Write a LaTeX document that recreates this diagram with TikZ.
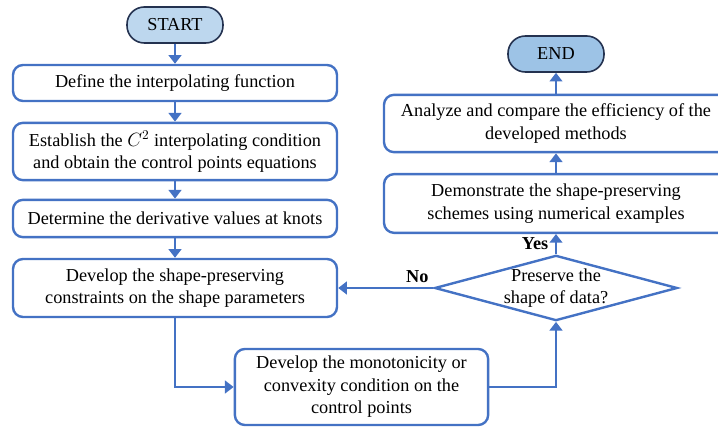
\documentclass[tikz,border=0pt]{standalone}
\usepackage{fontspec}
\setmainfont{Liberation Serif}
\usepackage{tikz}
\usetikzlibrary{shapes.geometric, arrows.meta, positioning, calc}
\definecolor{FlowBlue}{RGB}{68, 114, 196}
\definecolor{FlowNavy}{RGB}{36, 50, 80}
\definecolor{StartFill}{RGB}{189, 215, 238}
\definecolor{EndFill}{RGB}{157, 195, 230}

\tikzset{
  terminal/.style={draw=FlowNavy, line width=1.2pt, rounded corners=13pt,
                   minimum width=72pt, minimum height=27pt, inner sep=0pt,
                   font=\fontsize{13.7}{16.5}\selectfont},
  procbox/.style={draw=FlowBlue, line width=1.8pt, rounded corners=7.5pt,
                  fill=white, align=center, inner sep=0pt,
                  font=\fontsize{13.7}{16.8}\selectfont},
  decision/.style={diamond, draw=FlowBlue, line width=1.8pt, aspect=3.7,
                   minimum width=182pt, minimum height=49pt, inner sep=-6pt,
                   align=center, font=\fontsize{13.7}{17}\selectfont},
  flow/.style={draw=FlowBlue, line width=1.7pt,
               -{Triangle[width=9.5pt,length=6.5pt]}},
  answer/.style={font=\fontsize{13.7}{16}\selectfont\bfseries, inner sep=2pt}
}

\begin{document}
\begin{tikzpicture}[x=0.75pt, y=-0.75pt]
    \useasboundingbox (0,0) rectangle (718,427);

    % left column
    \node[terminal, fill=StartFill] (start) at (175,25) {START};
    \node[procbox, minimum width=243pt, minimum height=27pt] (define) at (175,83)
      {Define the interpolating function};
    \node[procbox, minimum width=243pt, minimum height=43pt] (cond) at (175,151.5)
      {Establish the $C^2$ interpolating condition\\and obtain the control points equations};
    \node[procbox, minimum width=243pt, minimum height=28pt] (deriv) at (175,218.5)
      {Determine the derivative values at knots};
    \node[procbox, minimum width=243pt, minimum height=43.5pt] (constr) at (175,288)
      {Develop the shape-preserving\\constraints on the shape parameters};
    \node[procbox, minimum width=190pt, minimum height=57pt] (mono) at (361.5,387)
      {Develop the monotonicity or\\convexity condition on the\\control points};

    % right column
    \node[decision] (check) at (556,288) {Preserve the\\shape of data?};
    \node[procbox, minimum width=258pt, minimum height=44pt] (demo) at (556,203.5)
      {Demonstrate the shape-preserving\\schemes using numerical examples};
    \node[procbox, minimum width=258pt, minimum height=43pt] (compare) at (556,123.5)
      {Analyze and compare the efficiency of the\\developed methods};
    \node[terminal, fill=EndFill] (end) at (556,54) {END};

    % connectors
    \draw[flow] (start) -- (define);
    \draw[flow] (define) -- (cond);
    \draw[flow] (cond) -- (deriv);
    \draw[flow] (deriv) -- (constr);
    \draw[flow] (constr.south) |- (mono.west);
    \draw[flow] (mono.east) -| (check.south);
    \draw[flow] (check.west) -- node[answer, pos=0.17, above, yshift=1pt] {No} (constr.east);
    \draw[flow] (check.north) -- node[answer, left, xshift=-3pt] {Yes} (demo.south);
    \draw[flow] (demo) -- (compare);
    \draw[flow] (compare) -- (end);
  \end{tikzpicture}
\end{document}
